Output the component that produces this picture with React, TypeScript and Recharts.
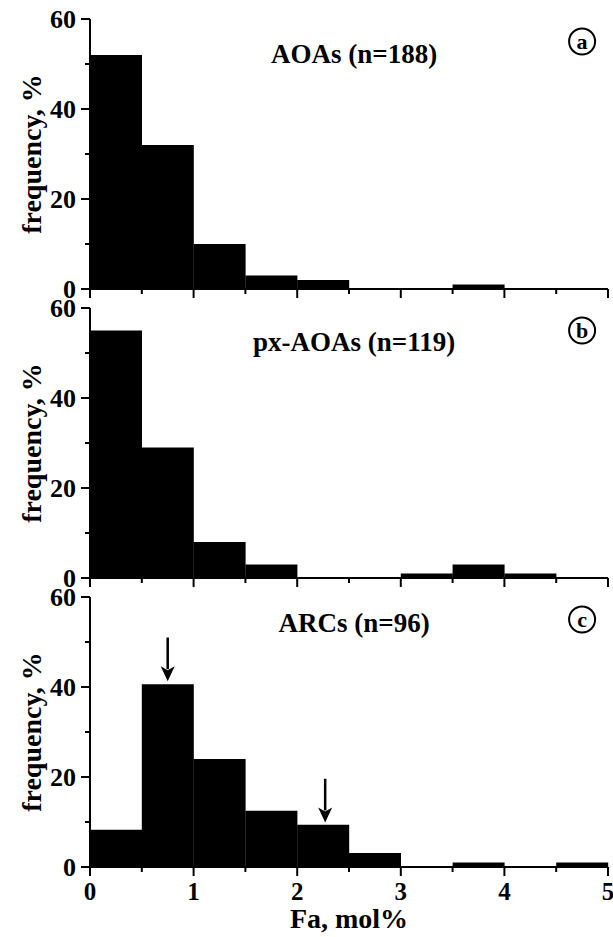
import React from "react";
import {
  Bar,
  ComposedChart,
  ReferenceDot,
  ReferenceLine,
  XAxis,
  YAxis,
} from "recharts";

const FONT = '"Liberation Serif", "Times New Roman", serif';

// histogram bins (0.5 mol% wide), frequency in %
const BIN_MIDS = [0.25, 0.75, 1.25, 1.75, 2.25, 2.75, 3.25, 3.75, 4.25, 4.75];
const AOAS = [52, 32, 10, 3, 2, 0, 0, 1, 0, 0];
const PX_AOAS = [55, 29, 8, 3, 0, 0, 1, 3, 1, 0];
const ARCS = [8.3, 40.6, 24, 12.5, 9.4, 3.1, 0, 1, 0, 1];

const X_TICKS = [0, 0.5, 1, 1.5, 2, 2.5, 3, 3.5, 4, 4.5, 5];
const Y_TICKS = [0, 10, 20, 30, 40, 50, 60];

// arrows in panel c: [x, yTop, yTip]
const ARC_ARROWS = [
  [0.75, 51, 41.3],
  [2.27, 19.6, 9.9],
];

const W = 613;
const PLOT_H = 270;
const MARGIN = { top: 19, right: 5, bottom: 0, left: 0 };

const BottomTick = (p: any) => {
  const v = p.payload.value;
  const major = Number.isInteger(v);
  return (
    <g>
      <line x1={p.x} y1={p.y} x2={p.x} y2={p.y + (major ? 9 : 5)} stroke="#000" strokeWidth={2} />
      {p.showLabel && major && (
        <text x={p.x} y={p.y + 33} textAnchor="middle" fontFamily={FONT} fontWeight="bold" fontSize={25} fill="#000">
          {v}
        </text>
      )}
    </g>
  );
};

const TopTick = (p: any) => {
  const major = Number.isInteger(p.payload.value);
  return <line x1={p.x} y1={p.y} x2={p.x} y2={p.y + (major ? 9 : 5)} stroke="#000" strokeWidth={2} />;
};

const LeftTick = (p: any) => {
  const v = p.payload.value;
  const major = v % 20 === 0;
  return (
    <g>
      <line x1={p.x} y1={p.y} x2={p.x - (major ? 9 : 5)} y2={p.y} stroke="#000" strokeWidth={2} />
      {major && (
        <text x={p.x - 14} y={p.y + 9} textAnchor="end" fontFamily={FONT} fontWeight="bold" fontSize={26} fill="#000">
          {v}
        </text>
      )}
    </g>
  );
};

const RightTick = (p: any) => {
  const major = p.payload.value % 20 === 0;
  return <line x1={p.x} y1={p.y} x2={p.x - (major ? 9 : 5)} y2={p.y} stroke="#000" strokeWidth={2} />;
};

const Arrow = (p: any) => {
  const { x1, y1, x2, y2 } = p;
  const head = 15;
  return (
    <g>
      <line x1={x1} y1={y1} x2={x2} y2={y2 - head + 3} stroke="#000" strokeWidth={2.5} />
      <polygon
        points={`${x2},${y2} ${x2 - 7},${y2 - head} ${x2},${y2 - head + 4} ${x2 + 7},${y2 - head}`}
        fill="#000"
      />
    </g>
  );
};

type PanelProps = {
  values: number[];
  title: string;
  titleY: number;
  letter: string;
  top: number;
  last?: boolean;
  arrows?: number[][];
};

function Panel({ values, title, titleY, letter, top, last, arrows }: PanelProps) {
  const data = BIN_MIDS.map((mid, i) => ({ mid, value: values[i] }));
  const axisH = last ? 70 : 12;
  const height = MARGIN.top + PLOT_H + axisH;
  return (
    <div style={{ position: "absolute", left: 0, top }}>
      <ComposedChart width={W} height={height} data={data} margin={MARGIN} barCategoryGap={0} barGap={0}>
        <XAxis
          xAxisId="num"
          dataKey="mid"
          type="number"
          domain={[0, 5]}
          ticks={X_TICKS}
          interval={0}
          height={axisH}
          axisLine={{ stroke: "#000", strokeWidth: 2 }}
          tickLine={false}
          tickSize={0}
          tickMargin={0}
          tick={(p: any) => <BottomTick {...p} showLabel={last} />}
          label={
            last
              ? { value: "Fa, mol%", position: "insideBottom", offset: 9, fontFamily: FONT, fontWeight: "bold", fontSize: 28, fill: "#000" }
              : undefined
          }
        />
        <XAxis
          xAxisId="top"
          dataKey="mid"
          type="number"
          orientation="top"
          height={0}
          domain={[0, 5]}
          ticks={X_TICKS}
          interval={0}
          axisLine={{ stroke: "#000", strokeWidth: 2 }}
          tickLine={false}
          tickSize={0}
          tickMargin={0}
          tick={TopTick}
        />
        <YAxis
          yAxisId="left"
          domain={[0, 60]}
          ticks={Y_TICKS}
          interval={0}
          width={90}
          axisLine={{ stroke: "#000", strokeWidth: 2 }}
          tickLine={false}
          tickSize={0}
          tickMargin={0}
          tick={LeftTick}
          label={{
            value: "frequency, %",
            angle: -90,
            position: "center",
            dx: -14,
            fontFamily: FONT,
            fontWeight: "bold",
            fontSize: 28,
            fill: "#000",
          }}
        />
        <YAxis
          yAxisId="right"
          orientation="right"
          width={0}
          domain={[0, 60]}
          ticks={Y_TICKS}
          interval={0}
          axisLine={{ stroke: "#000", strokeWidth: 2 }}
          tickLine={false}
          tickSize={0}
          tickMargin={0}
          tick={RightTick}
        />
        <Bar xAxisId="num" yAxisId="left" dataKey="value" fill="#000" isAnimationActive={false} />
        <ReferenceDot
          xAxisId="num"
          yAxisId="left"
          x={2.55}
          y={titleY}
          r={0}
          label={{ value: title, position: "center", fontFamily: FONT, fontWeight: "bold", fontSize: 27, fill: "#000" }}
        />
        <ReferenceDot
          xAxisId="num"
          yAxisId="left"
          x={4.75}
          y={55}
          r={13}
          fill="#fff"
          stroke="#000"
          strokeWidth={2}
          label={{ value: letter, position: "center", fontFamily: FONT, fontWeight: "bold", fontSize: 22, fill: "#000" }}
        />
        {(arrows ?? []).map(([x, y1, y2], i) => (
          <ReferenceLine
            key={i}
            xAxisId="num"
            yAxisId="left"
            segment={[
              { x, y: y1 },
              { x, y: y2 },
            ]}
            shape={Arrow}
          />
        ))}
      </ComposedChart>
    </div>
  );
}

export default function App() {
  return (
    <div style={{ position: "absolute", left: 0, top: 0, width: W, height: 937, background: "#fff" }}>
      <Panel values={AOAS} title="AOAs (n=188)" titleY={52.4} letter="a" top={0} />
      <Panel values={PX_AOAS} title="px-AOAs (n=119)" titleY={52.6} letter="b" top={289} />
      <Panel values={ARCS} title="ARCs (n=96)" titleY={54.4} letter="c" top={578} last arrows={ARC_ARROWS} />
    </div>
  );
}
